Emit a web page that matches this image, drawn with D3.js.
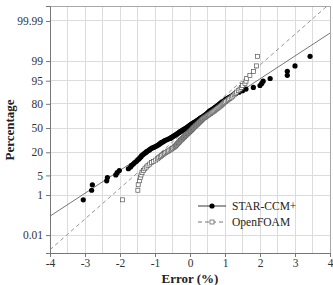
<!DOCTYPE html>
<html><head><meta charset="utf-8">
<script src="https://cdn.jsdelivr.net/npm/d3@7"></script>
<style>
html,body{margin:0;padding:0;background:#fff;}
svg{display:block;}
</style></head>
<body>
<svg id="chart" width="333" height="285"></svg>
<script>
// ---- data ----
const seriesNames = ["STAR-CCM+", "OpenFOAM"];
const starErrors = [-3.05,-2.81,-2.79,-2.38,-2.36,-2.12,-2.08,-2.02,-1.76,-1.70,
 -1.67,-1.62,-1.58,-1.53,-1.50,-1.46,-1.43,-1.40,-1.38,-1.34,
 -1.31,-1.27,-1.24,-1.20,-1.16,-1.13,-1.09,-1.04,-0.99,-0.95,
 -0.91,-0.88,-0.85,-0.82,-0.78,-0.75,-0.72,-0.67,-0.62,-0.57,
 -0.54,-0.51,-0.48,-0.45,-0.42,-0.39,-0.36,-0.33,-0.31,-0.28,
 -0.25,-0.22,-0.19,-0.16,-0.13,-0.10,-0.07,-0.05,-0.02,0.00,
 0.03,0.06,0.09,0.12,0.15,0.18,0.21,0.24,0.26,0.29,
 0.32,0.35,0.38,0.41,0.44,0.47,0.49,0.52,0.54,0.56,
 0.59,0.63,0.66,0.70,0.73,0.77,0.80,0.83,0.86,0.90,
 0.94,0.98,1.02,1.07,1.12,1.18,1.24,1.31,1.40,1.50,
 1.60,1.81,2.00,2.05,2.09,2.29,2.78,2.78,3.00,3.43];
const openfoamErrors = [-1.93,-1.49,-1.48,-1.44,-1.42,-1.40,-1.37,-1.33,-1.29,-1.25,
 -1.20,-1.15,-1.10,-1.04,-0.98,-0.93,-0.89,-0.85,-0.81,-0.77,
 -0.73,-0.69,-0.65,-0.61,-0.57,-0.53,-0.50,-0.46,-0.43,-0.41,
 -0.39,-0.37,-0.35,-0.33,-0.31,-0.29,-0.27,-0.25,-0.23,-0.21,
 -0.19,-0.17,-0.15,-0.13,-0.11,-0.09,-0.07,-0.05,-0.03,-0.01,
 0.01,0.03,0.05,0.07,0.08,0.10,0.12,0.14,0.16,0.18,
 0.20,0.22,0.24,0.26,0.28,0.30,0.32,0.34,0.36,0.38,
 0.41,0.44,0.47,0.50,0.53,0.56,0.59,0.62,0.65,0.68,
 0.71,0.74,0.77,0.80,0.83,0.86,0.89,0.92,0.95,0.98,
 1.02,1.06,1.10,1.14,1.18,1.22,1.26,1.29,1.33,1.38,
 1.43,1.47,1.50,1.57,1.60,1.62,1.71,1.81,1.90,1.93];
// fitted normal lines (mean, sd)
const fitMean = [-0.151, -0.047];
const fitSD = [1.258, 0.935];
const xTicks = [-4,-3,-2,-1,0,1,2,3,4];
const yTickLabels = ["0.01","1","5","20","50","80","95","99","99.99"];
const yTicks = [0.01,1,5,20,50,80,95,99,99.99];

// ---- helpers ----
function qnorm(p){
  const a=[-3.969683028665376e+01,2.209460984245205e+02,-2.759285104469687e+02,1.383577518672690e+02,-3.066479806614716e+01,2.506628277459239e+00];
  const b=[-5.447609879822406e+01,1.615858368580409e+02,-1.556989798598866e+02,6.680131188771972e+01,-1.328068155288572e+01];
  const c=[-7.784894002430293e-03,-3.223964580411365e-01,-2.400758277161838e+00,-2.549732539343734e+00,4.374664141464968e+00,2.938163982698783e+00];
  const d=[7.784695709041462e-03,3.224671290700398e-01,2.445134137142996e+00,3.754408661907416e+00];
  const pl=0.02425, ph=1-pl; let q,r;
  if(p<pl){q=Math.sqrt(-2*Math.log(p));return (((((c[0]*q+c[1])*q+c[2])*q+c[3])*q+c[4])*q+c[5])/((((d[0]*q+d[1])*q+d[2])*q+d[3])*q+1);}
  if(p<=ph){q=p-0.5;r=q*q;return (((((a[0]*r+a[1])*r+a[2])*r+a[3])*r+a[4])*r+a[5])*q/(((((b[0]*r+b[1])*r+b[2])*r+b[3])*r+b[4])*r+1);}
  q=Math.sqrt(-2*Math.log(1-p));return -(((((c[0]*q+c[1])*q+c[2])*q+c[3])*q+c[4])*q+c[5])/((((d[0]*q+d[1])*q+d[2])*q+d[3])*q+1);
}
// median-rank plotting positions
function positions(arr){
  const s=arr.slice().sort((a,b)=>a-b), n=s.length;
  return s.map((v,i)=>({x:v, z:qnorm((i+1-0.3)/(n+0.4))}));
}

// ---- layout ----
const svg=d3.select("#chart");
const L=50,R=330,T=6,B=253;
const x=d3.scaleLinear().domain([-4,4]).range([L,R]);
const y=d3.scaleLinear().domain([-4.34,4.24]).range([B,T]);
const serif="'Liberation Serif','Times New Roman',serif";

// grid
const gx=d3.range(-4,4.01,0.5);
svg.append("g").selectAll("line").data(gx).join("line")
  .attr("x1",d=>x(d)).attr("x2",d=>x(d)).attr("y1",T).attr("y2",B)
  .attr("stroke","#dcdcdc").attr("stroke-width",1).attr("shape-rendering","crispEdges");
svg.append("g").selectAll("line").data(yTicks).join("line")
  .attr("x1",L).attr("x2",R).attr("y1",d=>y(qnorm(d/100))).attr("y2",d=>y(qnorm(d/100)))
  .attr("stroke","#dcdcdc").attr("stroke-width",1).attr("shape-rendering","crispEdges");

// frame
svg.append("rect").attr("x",L).attr("y",T).attr("width",R-L).attr("height",B-T)
  .attr("fill","none").attr("stroke","#a8a8a8").attr("shape-rendering","crispEdges");

// axes
const xAxis=d3.axisBottom(x).tickValues(xTicks).tickSize(4).tickPadding(2).tickFormat(d3.format("d"));
const gxa=svg.append("g").attr("transform",`translate(0,${B})`).call(xAxis);
gxa.select(".domain").attr("stroke","#777");
gxa.selectAll(".tick line").attr("stroke","#777");
gxa.selectAll("text").attr("font-family",serif).attr("font-size","11.5px").attr("fill","#333")
  .text(d=>d<0?"-"+Math.abs(d):d);

const yAxis=d3.axisLeft(y).tickValues(yTicks.map(p=>qnorm(p/100))).tickSize(4)
  .tickFormat((d,i)=>yTickLabels[i]);
const gya=svg.append("g").attr("transform",`translate(${L},0)`).call(yAxis);
gya.select(".domain").attr("stroke","#777");
gya.selectAll(".tick line").attr("stroke","#777");
gya.selectAll("text").attr("font-family",serif).attr("font-size","11.5px").attr("fill","#333");

// titles
svg.append("text").attr("x",x(0)).attr("y",283).attr("text-anchor","middle")
  .attr("font-family",serif).attr("font-weight","bold").attr("font-size","13px").attr("fill","#222").text("Error (%)");
svg.append("text").attr("transform","translate(14,130) rotate(-90)").attr("text-anchor","middle")
  .attr("font-family",serif).attr("font-weight","bold").attr("font-size","13px").attr("fill","#222").text("Percentage");

// clip
svg.append("clipPath").attr("id","clip").append("rect").attr("x",L).attr("y",T).attr("width",R-L).attr("height",B-T);

// fitted lines
const styles=[{stroke:"#666",dash:null},{stroke:"#8a8a8a",dash:"4,3"}];
const lineG=svg.append("g").attr("clip-path","url(#clip)");
fitMean.forEach((m,k)=>{
  const sd=fitSD[k];
  const pts=[-4,4].map(v=>[x(v),y((v-m)/sd)]);
  lineG.append("line").attr("x1",pts[0][0]).attr("y1",pts[0][1]).attr("x2",pts[1][0]).attr("y2",pts[1][1])
    .attr("stroke",styles[k].stroke).attr("stroke-width",0.9).attr("stroke-dasharray",styles[k].dash);
});

// points
const ptsG=svg.append("g");
ptsG.selectAll("circle").data(positions(starErrors)).join("circle")
  .attr("cx",d=>x(d.x)).attr("cy",d=>y(d.z)).attr("r",2.6).attr("fill","#000");
const sq=4;
ptsG.selectAll("rect.of").data(positions(openfoamErrors)).join("rect").attr("class","of")
  .attr("x",d=>x(d.x)-sq/2).attr("y",d=>y(d.z)-sq/2).attr("width",sq).attr("height",sq)
  .attr("fill","#fff").attr("stroke","#555").attr("stroke-width",0.7);

// legend
const lg=svg.append("g");
const ly=[206,222];
seriesNames.forEach((name,k)=>{
  lg.append("line").attr("x1",198).attr("x2",226).attr("y1",ly[k]).attr("y2",ly[k])
    .attr("stroke",k===0?"#222":"#666").attr("stroke-width",0.9).attr("stroke-dasharray",styles[k].dash);
  if(k===0) lg.append("circle").attr("cx",212).attr("cy",ly[k]).attr("r",2.6).attr("fill","#000");
  else lg.append("rect").attr("x",210).attr("y",ly[k]-2).attr("width",4).attr("height",4)
    .attr("fill","#fff").attr("stroke","#555").attr("stroke-width",0.7);
  lg.append("text").attr("x",232).attr("y",ly[k]+4).attr("font-family",serif).attr("font-size","11.5px")
    .attr("fill","#222").text(name);
});
</script>
</body></html>
